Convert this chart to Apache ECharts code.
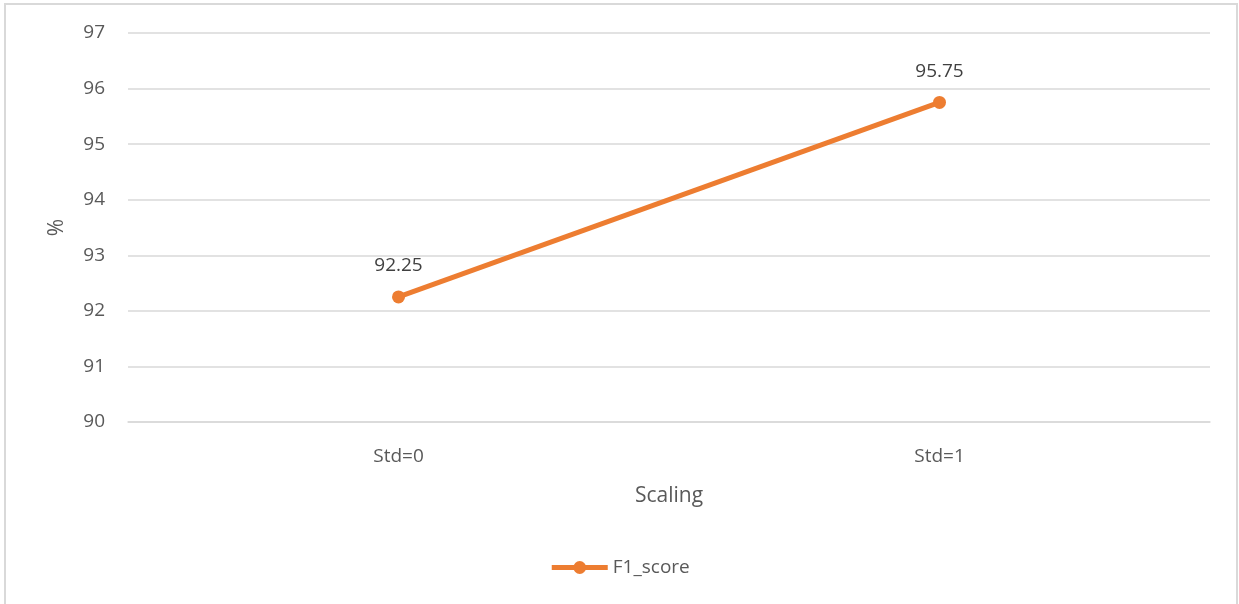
<!DOCTYPE html>
<html>
<head>
<meta charset="utf-8">
<script src="https://cdn.jsdelivr.net/npm/echarts@6/dist/echarts.min.js"></script>
<style>
html,body{margin:0;padding:0;background:#fff;}
#chart{width:1239px;height:604px;}
</style>
</head>
<body>
<div id="chart"></div>
<script>
const categories = ['Std=0', 'Std=1'];
const f1Score = [92.25, 95.75];
const seriesName = 'F1_score';
const yName = '%';
const xName = 'Scaling';

const chart = echarts.init(document.getElementById('chart'));
const font = '"Open Sans", "Noto Sans", sans-serif';
chart.setOption({
  animation: false,
  textStyle: {fontFamily: font},
  graphic: [{
    type: 'rect',
    shape: {x: 5, y: 4, width: 1232, height: 620},
    style: {fill: 'none', stroke: '#d9d9d9', lineWidth: 2},
    silent: true
  }],
  grid: {left: 128, right: 29, top: 33, bottom: 182, containLabel: false},
  xAxis: {
    type: 'category',
    data: categories,
    boundaryGap: true,
    name: xName,
    nameLocation: 'middle',
    nameGap: 64,
    nameTextStyle: {fontSize: 21, color: '#595959', fontFamily: font},
    axisLine: {show: true, lineStyle: {color: '#d9d9d9', width: 1.5}},
    axisTick: {show: false},
    axisLabel: {fontSize: 19, color: '#595959', margin: 25, fontFamily: font}
  },
  yAxis: {
    type: 'value',
    min: 90, max: 97, interval: 1,
    name: yName,
    nameLocation: 'middle',
    nameGap: 60,
    nameRotate: 90,
    nameTextStyle: {fontSize: 21, color: '#595959', fontFamily: font},
    axisLine: {show: false},
    axisTick: {show: false},
    axisLabel: {fontSize: 19, color: '#595959', margin: 23, fontFamily: font},
    splitLine: {lineStyle: {color: '#d9d9d9', width: 1.5}}
  },
  legend: {
    bottom: 22,
    left: 'center',
    itemWidth: 56,
    itemHeight: 16,
    itemGap: 8,
    lineStyle: {width: 5},
    textStyle: {fontSize: 19, color: '#595959', fontFamily: font},
    data: [seriesName]
  },
  series: [{
    name: seriesName,
    type: 'line',
    data: f1Score,
    symbol: 'circle',
    symbolSize: 13,
    lineStyle: {color: '#ED7D31', width: 5},
    itemStyle: {color: '#ED7D31'},
    label: {
      show: true,
      position: 'top',
      distance: 15,
      fontSize: 19,
      color: '#404040',
      fontFamily: font,
      formatter: p => p.value.toFixed(2)
    }
  }]
});
</script>
</body>
</html>
